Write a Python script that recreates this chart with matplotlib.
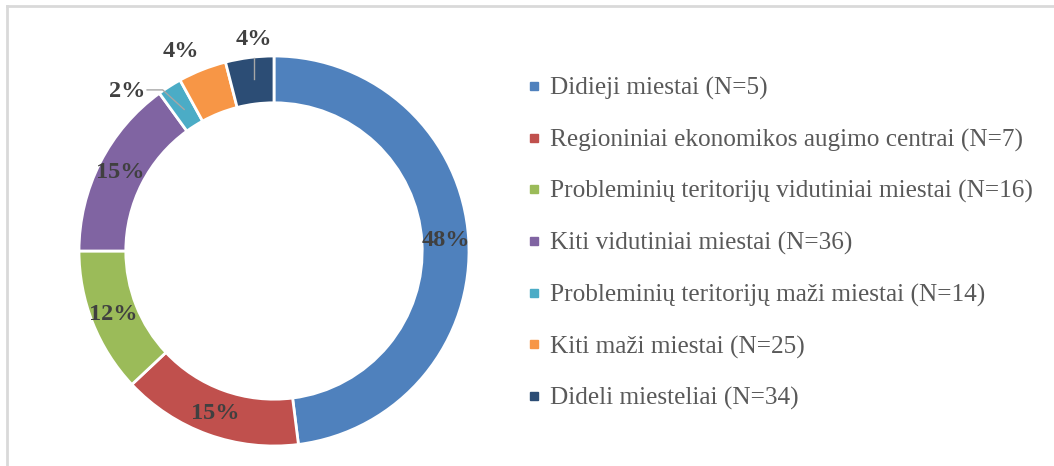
import numpy as np
import matplotlib
matplotlib.use("Agg")
import matplotlib.pyplot as plt
from matplotlib.lines import Line2D

# data (clockwise from 12 o'clock)
categories = [
    "Didieji miestai (N=5)",
    "Regioniniai ekonomikos augimo centrai (N=7)",
    "Probleminių teritorijų vidutiniai miestai (N=16)",
    "Kiti vidutiniai miestai (N=36)",
    "Probleminių teritorijų maži miestai (N=14)",
    "Kiti maži miestai (N=25)",
    "Dideli miesteliai (N=34)",
]
shares = [48, 15, 12, 15, 2, 4, 4]
pct_labels = ["48%", "15%", "12%", "15%", "2%", "4%", "4%"]
colors = ["#4F81BD", "#C0504D", "#9BBB59", "#8064A2", "#4BACC6", "#F79646", "#2C4D75"]

plt.rcParams['font.family'] = ['Liberation Serif', 'DejaVu Serif']

W, H = 1054, 466
fig = plt.figure(figsize=(W / 100, H / 100), dpi=100)

# donut centre (274, 251) px, outer radius 195 px
R = 195
cx, cy = 274, H - 251
half = 1.2 * R
ax = fig.add_axes([(cx - half) / W, (cy - half) / H, 2 * half / W, 2 * half / H])

wedges, _ = ax.pie(shares, colors=colors, startangle=90, counterclock=False,
                   radius=1.0, wedgeprops=dict(width=0.24, edgecolor='white', linewidth=2))
ax.set_xlim(-1.2, 1.2)
ax.set_ylim(-1.2, 1.2)
ax.set_aspect('equal', adjustable='box')
ax.axis('off')

lab_kw = dict(fontsize=17.5, fontweight='bold', color='#404040', ha='center', va='center')
lead = dict(color='#A6A6A6', lw=1)
for i, (w, lab) in enumerate(zip(wedges, pct_labels)):
    mid = np.deg2rad((w.theta1 + w.theta2) / 2)
    if shares[i] >= 5:
        ax.text(0.885 * np.cos(mid), 0.885 * np.sin(mid), lab, **lab_kw)
    elif i == 4:
        # 2% label pushed out to the left with a bent leader line
        ax0, ay0 = 0.86 * np.cos(mid), 0.86 * np.sin(mid)
        ly = ay0 + 0.1
        ax.plot([ax0, ax0 - 0.11, ax0 - 0.19], [ay0, ly, ly], **lead)
        ax.text(ax0 - 0.2, ly - 0.01, lab, **dict(lab_kw, ha='right'))
    elif i == 5:
        ax.text(1.13 * np.cos(mid) - 0.06, 1.13 * np.sin(mid) - 0.03, lab, **lab_kw)
    else:
        # 4% label above the ring with a short vertical leader
        lx = 0.9 * np.cos(mid) + 0.01
        ax.plot([lx, lx], [0.88, 0.99], **lead)
        ax.text(lx, 1.085, lab, **lab_kw)

handles = [Line2D([], [], marker='s', linestyle='none', markersize=5.5,
                  markerfacecolor=c, markeredgecolor=c) for c in colors]
fig.legend(handles, categories, loc='upper left', bbox_to_anchor=(527 / W, 1 - 77 / H),
           frameon=False, fontsize=18.2, labelcolor='#595959', handlelength=0.55,
           handletextpad=0.35, labelspacing=1.13, borderaxespad=0, borderpad=0)

# light frame along the top and left edges
fig.add_artist(Line2D([7 / W, 1], [1 - 6 / H, 1 - 6 / H], color='#D9D9D9', lw=2,
                      transform=fig.transFigure))
fig.add_artist(Line2D([7 / W, 7 / W], [0, 1 - 6 / H], color='#D9D9D9', lw=2,
                      transform=fig.transFigure))

fig.savefig("out.png", dpi=100, facecolor='white')
